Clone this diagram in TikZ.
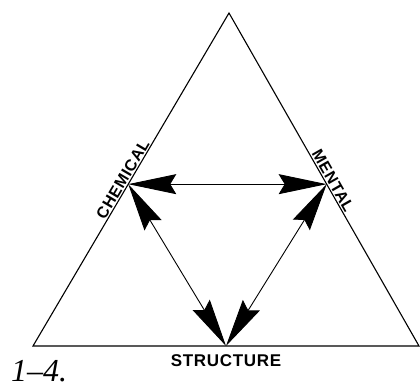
\documentclass[tikz,border=0pt]{standalone}
\usepackage{fontspec}
\usepackage{tikz}
\usetikzlibrary{arrows.meta,calc}
\newfontfamily\labelfont[LetterSpace=4]{Liberation Sans}
\newfontfamily\capfont{Liberation Serif}
\tikzset{
  side/.style={line width=1.1pt},
  link/.style={line width=0.9pt,{Stealth[length=48pt,width=20pt,inset=6pt]}-{Stealth[length=48pt,width=20pt,inset=6pt]}},
  sidelabel/.style={sloped,above,inner sep=1.5pt,font=\labelfont\bfseries\fontsize{16}{16}\selectfont}
}
\begin{document}
\begin{tikzpicture}[x=1pt,y=1pt]
\path[use as bounding box] (0,0) rectangle (420,388);
% corners of the triangle
\coordinate (top) at (229,375);
\coordinate (bl) at (33,42);
\coordinate (br) at (419,42);
% the three points on the sides
\coordinate (chem) at ($(bl)!0.486!(top)$);
\coordinate (ment) at ($(br)!0.486!(top)$);
\coordinate (struct) at ($(bl)!0.5!(br)$);
\draw[side] (bl) -- (top) -- (br) -- cycle;
\path (bl) -- (top) node[sidelabel,pos=0.49] (chemlabel) {CHEMICAL};
\path (top) -- (br) node[sidelabel,pos=0.515] (mentlabel) {MENTAL};
\node[anchor=base,inner sep=0pt,font=\labelfont\bfseries\fontsize{17}{17}\selectfont] (structlabel) at (226,21) {STRUCTURE};
\draw[link] (chem) -- (ment);
\draw[link] (chem) -- (struct);
\draw[link] (ment) -- (struct);
\node[anchor=base west,inner sep=0pt,font=\capfont\itshape\fontsize{32}{32}\selectfont] (caption) at (11,7) {1–4.};
\end{tikzpicture}
\end{document}
